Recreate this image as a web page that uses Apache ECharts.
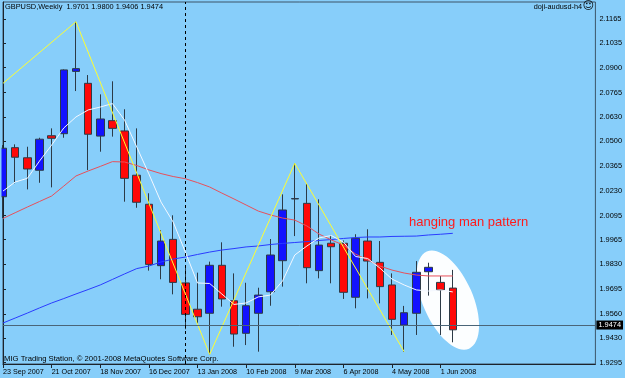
<!DOCTYPE html>
<html><head><meta charset="utf-8">
<script src="https://cdn.jsdelivr.net/npm/echarts@6/dist/echarts.min.js"></script>
<style>html,body{margin:0;padding:0;background:#87CEFA;}#c{width:625px;height:378px;}</style>
</head><body><div id="c"></div>
<script>
// x tick labels (week index -> label)
const labelWeeks = [0,4,8,12,16,20,24,28,32,36];
const weekLabels = ['23 Sep 2007','21 Oct 2007','18 Nov 2007','16 Dec 2007','13 Jan 2008','10 Feb 2008','9 Mar 2008','6 Apr 2008','4 May 2008','1 Jun 2008'];
// price tick labels
const priceTickLabels = ['1.9295','1.9430','1.9560','1.9695','1.9830','1.9965','2.0095','2.0230','2.0365','2.0500','2.0630','2.0765','2.0900','2.1035','2.1165'];
// weekly OHLC, week 0 = 23 Sep 2007
const opens  = [2.0198,2.0465,2.0410,2.0342,2.0530,2.0541,2.0880,2.0815,2.0528,2.0612,2.0556,2.0315,2.0157,1.9823,1.9966,1.9729,1.9586,1.9564,1.9825,1.9632,1.9455,1.9564,1.9681,1.9850,2.0186,2.0162,1.9796,1.9945,1.9945,1.9651,1.9957,1.9841,1.9718,1.9500,1.9564,1.9790,1.9732,1.9701];
const highs  = [2.0479,2.0483,2.0470,2.0519,2.0570,2.0891,2.1150,2.0860,2.0755,2.0826,2.0674,2.0570,2.0217,2.0017,2.0097,1.9810,1.9785,1.9845,1.9950,1.9781,1.9730,1.9703,1.9968,2.0211,2.0380,2.0271,2.0184,1.9990,1.9960,1.9994,2.0021,1.9957,1.9781,1.9604,1.9848,1.9839,1.9767,1.9800];
const lows   = [2.0082,2.0271,2.0238,2.0274,2.0249,2.0519,2.0773,2.0343,2.0443,2.0525,2.0171,2.0138,1.9796,1.9749,1.9667,1.9477,1.9509,1.9340,1.9600,1.9382,1.9391,1.9355,1.9605,1.9709,1.9984,1.9727,1.9754,1.9727,1.9642,1.9591,1.9645,1.9618,1.9446,1.9355,1.9446,1.9660,1.9446,1.9406];
const closes = [2.0462,2.0413,2.0349,2.0511,2.0516,2.0888,2.0895,2.0538,2.0621,2.0570,2.0298,2.0168,1.9830,1.9957,1.9732,1.9558,1.9545,1.9825,1.9642,1.9451,1.9605,1.9663,1.9881,2.0126,2.0188,1.9812,1.9935,1.9926,1.9678,1.9972,1.9848,1.9709,1.9531,1.9567,1.9787,1.9814,1.9691,1.9474];
// moving averages
const maRed   = [2.0080,2.0111,2.0142,2.0172,2.0202,2.0256,2.0311,2.0338,2.0363,2.0389,2.0387,2.0368,2.0344,2.0324,2.0308,2.0296,2.0275,2.0251,2.0218,2.0186,2.0153,2.0120,2.0099,2.0082,2.0071,2.0039,1.9995,1.9963,1.9935,1.9886,1.9854,1.9821,1.9799,1.9783,1.9772,1.9767,1.9767,1.9767];
const maBlue  = [1.9511,1.9538,1.9565,1.9593,1.9620,1.9644,1.9669,1.9693,1.9718,1.9748,1.9778,1.9807,1.9821,1.9843,1.9859,1.9870,1.9884,1.9897,1.9908,1.9916,1.9925,1.9930,1.9938,1.9944,1.9949,1.9954,1.9960,1.9965,1.9971,1.9976,1.9979,1.9979,1.9982,1.9983,1.9984,1.9990,1.9994,1.9999];
const maWhite = [2.0229,2.0278,2.0298,2.0392,2.0479,2.0572,2.0632,2.0670,2.0686,2.0705,2.0615,2.0469,2.0322,2.0169,2.0060,1.9897,1.9729,1.9726,1.9669,1.9612,1.9620,1.9653,1.9663,1.9740,1.9881,1.9930,1.9974,1.9987,1.9952,1.9873,1.9862,1.9810,1.9750,1.9718,1.9691,1.9685,1.9691,1.9680];
// zigzag pivots
const zigzagWeeks  = [0,6,17,24,33];
const zigzagPrices = [2.0815,2.1150,1.9340,2.0380,1.9355];
const bidPrice = 1.9474;
const separatorWeek = 15;
const noteWeek = 33.4, notePrice = 2.0057;
const ellipseWeek = 36.6, ellipsePrice = 1.9636;

const FONT = "'Liberation Sans',Arial,sans-serif";
const chart = echarts.init(document.getElementById('c'), null, {renderer:'canvas'});
const candleData = opens.map((o,i)=>[i,o,closes[i],lows[i],highs[i]]);
const toXY = arr => arr.map((v,i)=>[i,v]);
const priceTicks = priceTickLabels.map(Number);
const AX = '#1c242c';

chart.setOption({
  animation:false,
  backgroundColor:'#87CEFA',
  grid:{left:2,right:29,top:2,bottom:14,show:true,borderColor:'#3c5568',borderWidth:1,backgroundColor:'transparent'},
  xAxis:{type:'value',min:0,max:48.73,
    axisLine:{show:true,onZero:false,lineStyle:{color:AX,width:1}},
    axisTick:{show:true,length:4,customValues:labelWeeks,lineStyle:{color:AX}},
    axisLabel:{customValues:labelWeeks,align:'left',margin:5,fontSize:7.2,fontFamily:FONT,color:'#000',
      formatter:v=>weekLabels[labelWeeks.indexOf(Math.round(v))]||''},
    splitLine:{show:false}},
  yAxis:{type:'value',position:'right',min:1.9288,max:2.12575,scale:true,
    axisLine:{show:true,lineStyle:{color:AX,width:1}},
    axisTick:{show:true,length:3,customValues:priceTicks,lineStyle:{color:AX}},
    axisLabel:{customValues:priceTicks,margin:4,fontSize:7.4,fontFamily:FONT,color:'#000',
      formatter:v=>{const k=priceTicks.findIndex(t=>Math.abs(t-v)<1e-6);return k>=0?priceTickLabels[k]:'';}},
    splitLine:{show:false}},
  series:[
    {type:'candlestick',data:candleData,barWidth:8,clip:true,encode:{x:0,y:[1,2,3,4]},
      itemStyle:{color:'#1212ff',color0:'#ff0808',borderColor:'#2c3a46',borderColor0:'#2c3a46',borderWidth:1},
      markLine:{silent:true,symbol:'none',animation:false,
        data:[
          {yAxis:bidPrice,lineStyle:{color:'#4a6578',width:1,type:'solid'},
            label:{show:true,position:'end',distance:1,formatter:bidPrice.toFixed(4),color:'#fff',backgroundColor:'#000',padding:[1,2,1,2],fontSize:7.4,fontFamily:FONT}},
          {xAxis:separatorWeek,lineStyle:{color:'#000',width:1,type:[3,3]},label:{show:false}}
        ]}},
    {type:'line',data:toXY(maBlue),symbol:'none',lineStyle:{color:'#2a3cff',width:1},z:3},
    {type:'line',data:toXY(maRed),symbol:'none',lineStyle:{color:'#e8505a',width:1},z:3},
    {type:'line',data:toXY(maWhite),symbol:'none',lineStyle:{color:'#f4f8ff',width:1},z:3},
    {type:'line',data:zigzagWeeks.map((w,i)=>[w,zigzagPrices[i]]),symbol:'none',lineStyle:{color:'#ffff30',width:1},z:4}
  ]
});

const ec = chart.convertToPixel({gridIndex:0},[ellipseWeek,ellipsePrice]);
const nt = chart.convertToPixel({gridIndex:0},[noteWeek,notePrice]);
chart.setOption({graphic:[
  {type:'ellipse',x:ec[0],y:ec[1],rotation:0.41,shape:{cx:0,cy:0,rx:25,ry:53},style:{fill:'#fcfeff'},z:0,silent:true},
  {type:'rect',left:0,top:0,shape:{width:1.5,height:378},style:{fill:'#87CEFA'},z:50,silent:true},
  {type:'text',x:nt[0],y:nt[1],style:{text:'hanging man pattern',fill:'#ff1a1a',font:"13px 'Liberation Sans',Arial,sans-serif",textVerticalAlign:'middle'},z:10},
  {type:'text',left:5,top:3,style:{text:'GBPUSD,Weekly  '+[opens[37],highs[37],lows[37],closes[37]].map(v=>v.toFixed(4)).join(' '),fill:'#000',font:'7.4px '+FONT},z:10},
  {type:'text',right:43,top:3,style:{text:'doji-audusd-h4',fill:'#000',font:'7.3px '+FONT},z:10},
  {type:'text',right:31,top:1,style:{text:'\u263A',fill:'#000',font:"11px 'DejaVu Sans'"},z:10},
  {type:'text',left:4,top:355,style:{text:'MIG Trading Station, \u00A9 2001-2008 MetaQuotes Software Corp.',fill:'#000',font:'7.7px '+FONT},z:10}
]});
</script></body></html>
